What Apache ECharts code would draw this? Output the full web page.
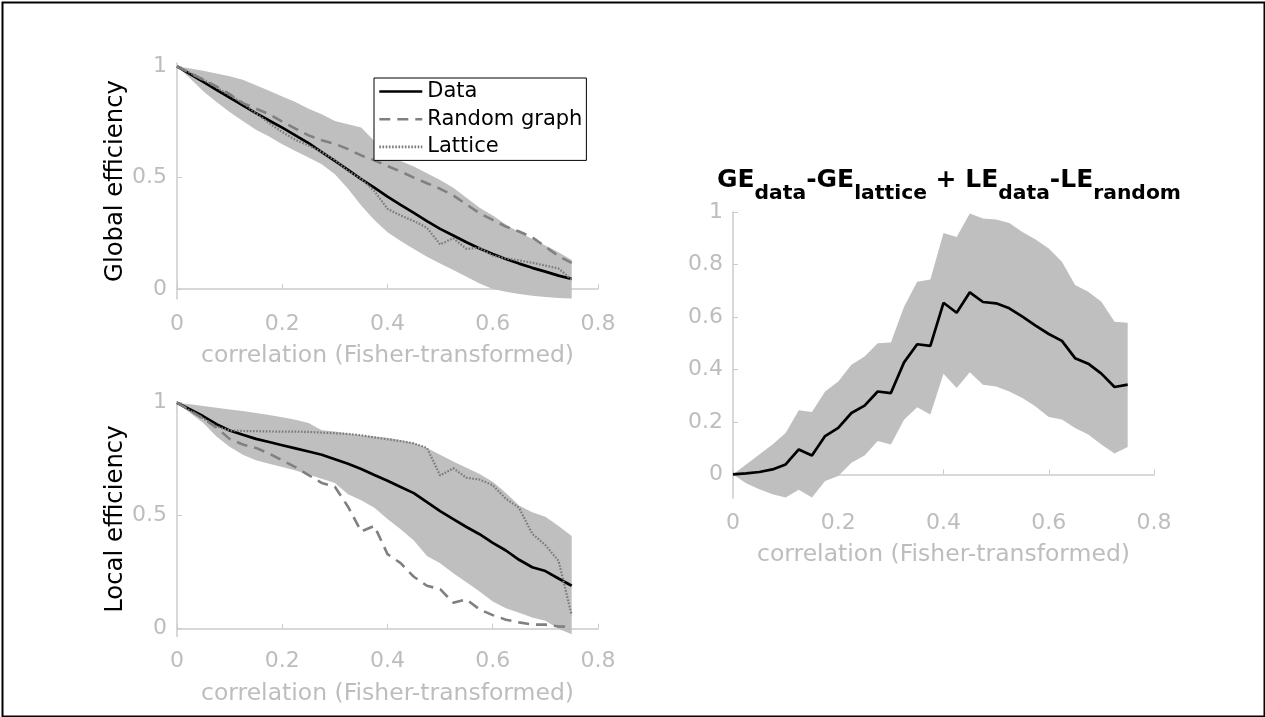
<!DOCTYPE html>
<html>
<head>
<meta charset="utf-8">
<title>Efficiency vs correlation threshold</title>
<script src="https://cdn.jsdelivr.net/npm/echarts@6/dist/echarts.min.js"></script>
<style>
  html, body { margin: 0; padding: 0; background: #fff; }
  #chart { width: 1265px; height: 717px; }
</style>
</head>
<body>
<div id="chart"></div>
<script>
// correlation thresholds (Fisher-transformed)
const xs = [0, 0.025, 0.05, 0.075, 0.1, 0.125, 0.15, 0.175, 0.2, 0.225, 0.25, 0.275, 0.3, 0.325, 0.35,
  0.375, 0.4, 0.425, 0.45, 0.475, 0.5, 0.525, 0.55, 0.575, 0.6, 0.625, 0.65, 0.675, 0.7, 0.725, 0.75];

// global efficiency
const geData = [1.0, 0.965, 0.93, 0.895, 0.86, 0.825, 0.79, 0.757, 0.725, 0.69, 0.655, 0.615, 0.575, 0.535, 0.493,
  0.455, 0.415, 0.378, 0.342, 0.305, 0.27, 0.24, 0.21, 0.182, 0.157, 0.135, 0.114, 0.095, 0.078, 0.06, 0.045];
const geRandom = [1.0, 0.97, 0.94, 0.91, 0.875, 0.835, 0.81, 0.785, 0.752, 0.72, 0.69, 0.668, 0.652, 0.628, 0.6,
  0.578, 0.552, 0.528, 0.5, 0.475, 0.45, 0.42, 0.38, 0.34, 0.31, 0.28, 0.258, 0.232, 0.19, 0.148, 0.117];
const geLattice = [1.0, 0.97, 0.94, 0.905, 0.87, 0.835, 0.79, 0.745, 0.705, 0.67, 0.645, 0.615, 0.58, 0.53, 0.495,
  0.44, 0.36, 0.33, 0.305, 0.275, 0.2, 0.228, 0.18, 0.185, 0.15, 0.138, 0.128, 0.118, 0.105, 0.092, 0.042];
const geUpper = [1.0, 0.99, 0.98, 0.968, 0.955, 0.94, 0.915, 0.89, 0.865, 0.84, 0.81, 0.785, 0.755, 0.74, 0.725,
  0.665, 0.6, 0.575, 0.55, 0.52, 0.49, 0.455, 0.41, 0.365, 0.33, 0.29, 0.255, 0.225, 0.195, 0.165, 0.13];
const geLower = [1.0, 0.945, 0.888, 0.84, 0.795, 0.755, 0.715, 0.685, 0.65, 0.62, 0.59, 0.56, 0.515, 0.45, 0.375,
  0.31, 0.255, 0.215, 0.18, 0.145, 0.115, 0.085, 0.055, 0.025, 0.0, -0.012, -0.022, -0.03, -0.036, -0.04, -0.043];

// local efficiency
const leData = [1.0, 0.97, 0.94, 0.905, 0.877, 0.858, 0.84, 0.826, 0.812, 0.798, 0.784, 0.77, 0.75, 0.73, 0.707,
  0.68, 0.655, 0.627, 0.6, 0.56, 0.52, 0.485, 0.45, 0.418, 0.38, 0.346, 0.305, 0.272, 0.255, 0.222, 0.19];
const leRandom = [1.0, 0.965, 0.93, 0.89, 0.84, 0.815, 0.8, 0.775, 0.745, 0.715, 0.68, 0.645, 0.628, 0.54, 0.43,
  0.455, 0.33, 0.29, 0.23, 0.19, 0.175, 0.115, 0.13, 0.085, 0.06, 0.04, 0.028, 0.018, 0.018, 0.01, 0.008];
const leLattice = [1.0, 0.965, 0.93, 0.895, 0.877, 0.875, 0.874, 0.873, 0.872, 0.872, 0.871, 0.868, 0.865, 0.862, 0.856,
  0.847, 0.838, 0.83, 0.82, 0.8, 0.678, 0.71, 0.668, 0.66, 0.635, 0.575, 0.535, 0.42, 0.37, 0.3, 0.06];
const leUpper = [1.0, 0.993, 0.985, 0.978, 0.97, 0.963, 0.955, 0.946, 0.936, 0.925, 0.91, 0.878, 0.873, 0.864, 0.856,
  0.85, 0.845, 0.835, 0.822, 0.8, 0.77, 0.74, 0.712, 0.685, 0.65, 0.6, 0.545, 0.515, 0.495, 0.455, 0.41];
const leLower = [1.0, 0.955, 0.91, 0.85, 0.805, 0.77, 0.745, 0.73, 0.716, 0.7, 0.682, 0.664, 0.645, 0.595, 0.568,
  0.535, 0.485, 0.44, 0.39, 0.322, 0.29, 0.245, 0.205, 0.165, 0.12, 0.09, 0.07, 0.05, 0.035, 0.0, -0.025];

// combined difference score
const diffMean = [0, 0.004, 0.009, 0.019, 0.038, 0.095, 0.072, 0.146, 0.177, 0.234, 0.262, 0.316, 0.31, 0.427, 0.496,
  0.49, 0.654, 0.616, 0.694, 0.657, 0.652, 0.633, 0.601, 0.567, 0.535, 0.509, 0.443, 0.422, 0.384, 0.333, 0.342];
const diffUpper = [0, 0.038, 0.076, 0.114, 0.158, 0.244, 0.238, 0.316, 0.354, 0.418, 0.449, 0.5, 0.503, 0.639, 0.734,
  0.743, 0.92, 0.905, 0.994, 0.975, 0.971, 0.958, 0.924, 0.895, 0.861, 0.81, 0.722, 0.696, 0.658, 0.582, 0.578];
const diffLower = [0, -0.034, -0.057, -0.076, -0.088, -0.059, -0.088, -0.025, -0.006, 0.044, 0.072, 0.127, 0.114, 0.208, 0.256,
  0.228, 0.384, 0.329, 0.389, 0.342, 0.335, 0.316, 0.291, 0.259, 0.219, 0.209, 0.177, 0.152, 0.114, 0.08, 0.104];

// axis tick values
const effTicks = [0, 0.5, 1];
const diffTicks = [0, 0.2, 0.4, 0.6, 0.8, 1];

const FONT = 'DejaVu Sans';
const AXIS_GREY = '#cbcbcb';
const LABEL_GREY = '#bdbdbd';
const BAND_GREY = '#bfbfbf';
const xName = 'correlation (Fisher-transformed)';

const pairs = (ys) => xs.map((x, i) => [x, ys[i]]);

function xAxisFor(gridIndex) {
  return {
    type: 'value', gridIndex, min: 0, max: 0.8, interval: 0.2,
    name: xName, nameLocation: 'middle', nameGap: 45,
    nameTextStyle: { color: LABEL_GREY, fontSize: 23.5, fontFamily: FONT },
    axisLine: { show: true, lineStyle: { color: AXIS_GREY, width: 1.5 } },
    axisTick: { show: true, inside: true, length: 5, lineStyle: { color: AXIS_GREY } },
    axisLabel: { color: LABEL_GREY, fontSize: 22, fontFamily: FONT, margin: 14 },
    splitLine: { show: false }
  };
}

function yAxisFor(gridIndex, min, max, ticks, name) {
  return {
    type: 'value', gridIndex, min, max,
    name: name || '', nameLocation: 'middle', nameGap: 49, nameRotate: 90,
    nameTextStyle: { color: '#000', fontSize: 24.3, fontFamily: FONT },
    axisLine: { show: true, lineStyle: { color: AXIS_GREY, width: 1.5 } },
    axisTick: { show: true, inside: true, length: 5, customValues: ticks, lineStyle: { color: AXIS_GREY } },
    axisLabel: { color: LABEL_GREY, fontSize: 22, fontFamily: FONT, margin: 10, customValues: ticks },
    splitLine: { show: false }
  };
}

// shaded spread between a lower and an upper bound, drawn as one polygon in data coordinates
function band(axis, lo, hi) {
  return {
    type: 'custom', xAxisIndex: axis, yAxisIndex: axis, silent: true, z: 1,
    data: [[xs[0], hi[0]]],
    renderItem: function (params, api) {
      const top = xs.map((x, i) => api.coord([x, hi[i]]));
      const bottom = xs.map((x, i) => api.coord([x, lo[i]])).reverse();
      return {
        type: 'polygon',
        shape: { points: top.concat(bottom) },
        style: { fill: BAND_GREY, stroke: null }
      };
    }
  };
}

function curve(axis, name, ys, style) {
  return {
    type: 'line', name, xAxisIndex: axis, yAxisIndex: axis, data: pairs(ys),
    symbol: 'none', lineStyle: style, itemStyle: { color: style.color }, z: 3, silent: true
  };
}

const dataStyle = { color: '#000000', width: 2.7, type: 'solid' };
const randomStyle = { color: '#808080', width: 2.6, type: [11, 7] };
const latticeStyle = { color: '#7a7a7a', width: 2.2, type: [1.6, 1.6] };

const chart = echarts.init(document.getElementById('chart'), null, { renderer: 'canvas' });

chart.setOption({
  animation: false,
  backgroundColor: '#ffffff',
  textStyle: { fontFamily: FONT },
  title: {
    left: 717, top: 168, padding: 0,
    text: '{m|GE}{s|data}{m|-GE}{s|lattice}{m| + LE}{s|data}{m|-LE}{s|random}',
    textStyle: {
      rich: {
        m: { fontSize: 25, fontWeight: 'bold', fontFamily: FONT, color: '#000', lineHeight: 28, verticalAlign: 'top' },
        s: { fontSize: 20.3, fontWeight: 'bold', fontFamily: FONT, color: '#000', lineHeight: 20, verticalAlign: 'top', padding: [16, 0, 0, 0] }
      }
    }
  },
  legend: {
    data: ['Data', 'Random graph', 'Lattice'],
    left: 374, top: 78, orient: 'vertical',
    itemWidth: 43, itemHeight: 20, itemGap: 6.7,
    padding: [3, 4, 3, 4],
    borderColor: '#000', borderWidth: 1, backgroundColor: '#fff', borderRadius: 0,
    selectedMode: false,
    itemStyle: { opacity: 0 },
    lineStyle: { width: 2.6 },
    textStyle: { color: '#000', fontSize: 21, fontFamily: FONT }
  },
  grid: [
    { left: 177, top: 63, width: 421, height: 236, containLabel: false, outerBoundsMode: 'none' },
    { left: 177, top: 401.6, width: 421, height: 235, containLabel: false, outerBoundsMode: 'none' },
    { left: 733, top: 212, width: 421, height: 286, containLabel: false, outerBoundsMode: 'none' }
  ],
  xAxis: [xAxisFor(0), xAxisFor(1), xAxisFor(2)],
  yAxis: [
    yAxisFor(0, -0.045, 1.015, effTicks, 'Global efficiency'),
    yAxisFor(1, -0.035, 1.005, effTicks, 'Local efficiency'),
    yAxisFor(2, -0.09, 1.0, diffTicks, '')
  ],
  series: [
    band(0, geLower, geUpper),
    curve(0, 'Data', geData, dataStyle),
    curve(0, 'Random graph', geRandom, randomStyle),
    curve(0, 'Lattice', geLattice, latticeStyle),

    band(1, leLower, leUpper),
    curve(1, 'Data', leData, dataStyle),
    curve(1, 'Random graph', leRandom, randomStyle),
    curve(1, 'Lattice', leLattice, latticeStyle),

    band(2, diffLower, diffUpper),
    curve(2, 'Difference', diffMean, dataStyle)
  ],
  graphic: [
    {
      type: 'rect', left: 0, top: 0, silent: true, z: 10,
      shape: { x: 1, y: 1, width: 1262, height: 714 },
      style: { fill: 'none', stroke: '#000', lineWidth: 2 }
    }
  ]
});
</script>
</body>
</html>
